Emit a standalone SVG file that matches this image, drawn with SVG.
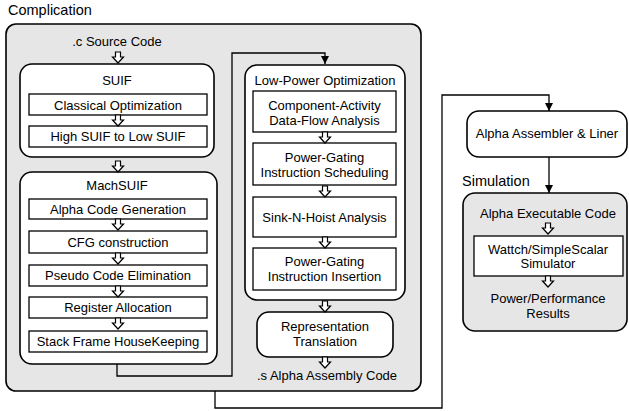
<svg xmlns="http://www.w3.org/2000/svg" width="629" height="411" viewBox="0 0 629 411">
<style>
text{font-family:"Liberation Sans",Arial,sans-serif;font-size:13px;fill:#000;text-anchor:middle}
.title{font-size:14.5px;text-anchor:start}
.grp{fill:#e6e6e6;stroke:#000;stroke-width:1.6}
.rnd{fill:#fff;stroke:#000;stroke-width:1.6}
.box{fill:#fff;stroke:#000;stroke-width:1.3}
.conn{fill:none;stroke:#000;stroke-width:1.3}
.barrow{fill:#fff;stroke:#000;stroke-width:1.2}
</style>
<defs>
<path id="ba" class="barrow" d="M-2.5,0 H2.5 V5 H5.5 L0,11 L-5.5,5 H-2.5 Z"/>
<marker id="ah" viewBox="0 0 10 10" refX="10" refY="5" markerWidth="8" markerHeight="8" markerUnits="userSpaceOnUse" orient="auto">
<path d="M0,0 L10,5 L0,10 Z" fill="#000"/>
</marker>
</defs>

<g id="complication">
<text class="title" x="8" y="15">Complication</text>
<rect class="grp" x="6" y="24" width="415" height="367" rx="10"/>
<text x="117" y="46">.c Source Code</text>
<text x="327" y="380">.s Alpha Assembly Code</text>
</g>

<g id="connectors">
<path class="conn" d="M117,364 V376 H232 V53 H325 V64" marker-end="url(#ah)"/>
<path class="conn" d="M215,391 V408 H442 V95 H549 V111" marker-end="url(#ah)"/>
<path class="conn" d="M549,157 V193" marker-end="url(#ah)"/>
</g>

<g id="suif">
<rect class="rnd" x="20" y="64" width="194" height="93" rx="12"/>
<text x="117" y="85">SUIF</text>
<rect class="box" x="29" y="94" width="178" height="21"/>
<text x="118" y="110">Classical Optimization</text>
<rect class="box" x="29" y="126" width="178" height="21"/>
<text x="118" y="141">High SUIF to Low SUIF</text>
</g>

<g id="machsuif">
<rect class="rnd" x="20" y="172" width="197" height="192" rx="12"/>
<text x="117" y="190">MachSUIF</text>
<rect class="box" x="29" y="199" width="178" height="20"/>
<text x="118" y="214">Alpha Code Generation</text>
<rect class="box" x="29" y="231" width="178" height="22"/>
<text x="118" y="247">CFG construction</text>
<rect class="box" x="29" y="265" width="178" height="21"/>
<text x="118" y="280">Pseudo Code Elimination</text>
<rect class="box" x="29" y="297" width="178" height="21"/>
<text x="118" y="312">Register Allocation</text>
<rect class="box" x="29" y="331" width="178" height="21"/>
<text x="118" y="346">Stack Frame HouseKeeping</text>
</g>

<g id="lowpower">
<rect class="rnd" x="245" y="65" width="160" height="235" rx="12"/>
<text x="325" y="85">Low-Power Optimization</text>
<rect class="box" x="253" y="91" width="143" height="41"/>
<text x="324.5" y="110">Component-Activity</text>
<text x="324.5" y="125">Data-Flow Analysis</text>
<rect class="box" x="253" y="143" width="143" height="42"/>
<text x="324.5" y="162">Power-Gating</text>
<text x="324.5" y="177">Instruction Scheduling</text>
<rect class="box" x="253" y="197" width="143" height="40"/>
<text x="324.5" y="222">Sink-N-Hoist Analysis</text>
<rect class="box" x="253" y="248" width="143" height="42"/>
<text x="324.5" y="266">Power-Gating</text>
<text x="324.5" y="281">Instruction Insertion</text>
</g>

<g id="representation">
<rect class="rnd" x="257" y="312" width="136" height="45" rx="12"/>
<text x="325" y="331">Representation</text>
<text x="325" y="346">Translation</text>
</g>

<g id="assembler">
<rect class="rnd" x="467" y="111" width="160" height="46" rx="12"/>
<text x="547" y="138">Alpha Assembler &amp; Liner</text>
</g>

<g id="simulation">
<text class="title" x="462" y="186">Simulation</text>
<rect class="grp" x="463" y="193" width="164" height="138" rx="12"/>
<text x="548" y="218">Alpha Executable Code</text>
<rect class="box" x="474" y="236" width="149" height="40"/>
<text x="548" y="254">Wattch/SimpleScalar</text>
<text x="548" y="268">Simulator</text>
<text x="548" y="303">Power/Performance</text>
<text x="548" y="318">Results</text>
</g>

<g id="block-arrows">
<use href="#ba" x="118" y="52"/>
<use href="#ba" x="118" y="115"/>
<use href="#ba" x="118" y="161"/>
<use href="#ba" x="118" y="219"/>
<use href="#ba" x="118" y="253"/>
<use href="#ba" x="118" y="286"/>
<use href="#ba" x="118" y="318"/>
<use href="#ba" x="325" y="132"/>
<use href="#ba" x="325" y="186"/>
<use href="#ba" x="325" y="237"/>
<use href="#ba" x="325" y="301"/>
<use href="#ba" x="325" y="357"/>
<use href="#ba" x="548" y="223"/>
<use href="#ba" x="548" y="276"/>
</g>
</svg>
